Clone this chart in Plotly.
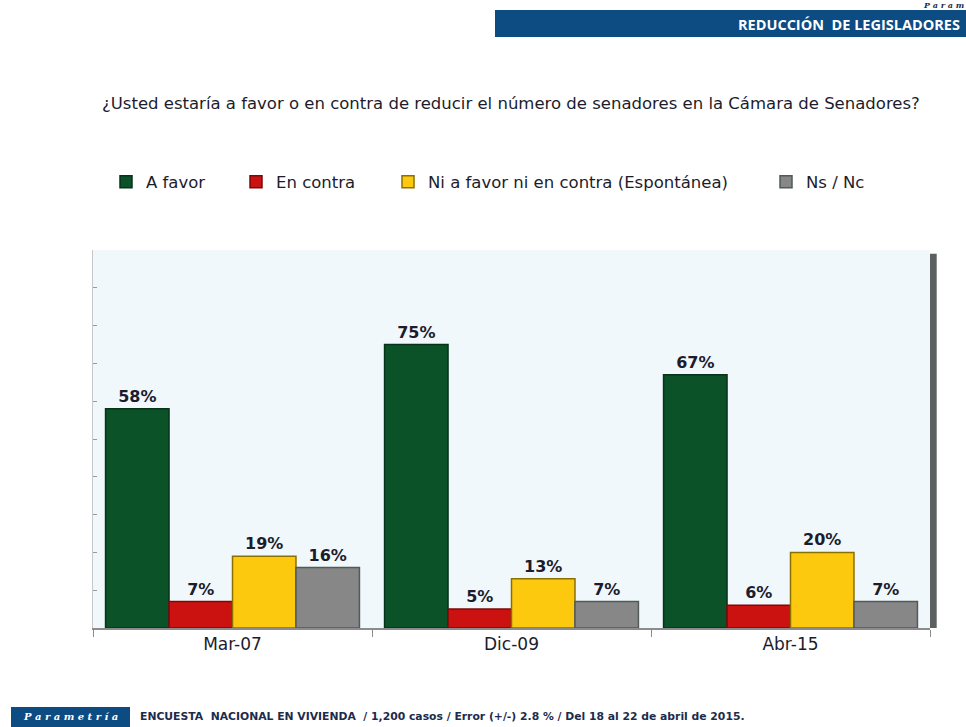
import plotly.graph_objects as go

categories = ["Mar-07", "Dic-09", "Abr-15"]
series_names = ["A favor", "En contra", "Ni a favor ni en contra (Espontánea)", "Ns / Nc"]
a_favor = [58, 75, 67]
en_contra = [7, 5, 6]
ni_ni = [19, 13, 20]
ns_nc = [16, 7, 7]
values = [a_favor, en_contra, ni_ni, ns_nc]
colors = ["#0b5229", "#cc1111", "#fdc90f", "#878787"]
edge_colors = ["#06331a", "#7a0a0a", "#8a7000", "#4f5a5a"]
legend_ids = ["legend", "legend2", "legend3", "legend4"]
legend_px = [131, 261, 413, 791]  # reference swatch centers (px)

L, R, T, B = 93, 36, 250, 99
PW = 966 - L - R
PH = 727 - T - B

def px(x):
    return (x - L) / PW

def py(y):
    return (727 - B - y) / PH

TXT = "#1c1c2c"
FONT = "DejaVu Sans"

fig = go.Figure()
for name, vals, c, ec, lid in zip(series_names, values, colors, edge_colors, legend_ids):
    fig.add_trace(go.Bar(
        x=categories, y=vals, name=name, legend=lid,
        marker=dict(color=c, line=dict(color=ec, width=1.5)),
        text=[f"<b>{v}%</b>" for v in vals], textposition="outside",
        textfont=dict(family=FONT, size=16, color=TXT),
        cliponaxis=False,
    ))

layout_legends = {}
for lid, sx in zip(legend_ids, legend_px):
    layout_legends[lid] = dict(
        orientation="h", x=px(sx - 25), y=1 - 182 / 727, xref="paper", yref="container",
        xanchor="left", yanchor="middle",
        font=dict(family=FONT, size=16.5, color=TXT),
        bgcolor="rgba(0,0,0,0)", itemwidth=30)

fig.update_layout(
    width=966, height=727,
    margin=dict(l=L, r=R, t=T, b=B),
    paper_bgcolor="white",
    plot_bgcolor="#f1f8fc",
    barmode="group", bargap=0.09, bargroupgap=0.0,
    font=dict(family=FONT, color=TXT),
    showlegend=True,
    xaxis=dict(showline=True, linecolor="#8c8c8c", linewidth=2, ticks="outside",
               tickson="boundaries", ticklen=7, tickcolor="#8c8c8c",
               tickfont=dict(family=FONT, size=17, color=TXT)),
    yaxis=dict(range=[0, 100], showticklabels=False, showgrid=False, zeroline=False,
               showline=True, linecolor="#c8c8c8", ticks="inside", ticklen=4,
               tickcolor="#9a9a9a", dtick=10),
    **layout_legends,
)

# right wall (3D effect)
fig.add_shape(type="rect", xref="paper", yref="paper", x0=1.0, x1=1.008, y0=0.0, y1=0.99,
              fillcolor="#5c6060", line=dict(width=0), layer="below")

# header band
fig.add_shape(type="rect", xref="paper", yref="paper", x0=px(495), x1=px(966),
              y0=py(37), y1=py(10), fillcolor="#0d4b83", line=dict(width=0))
fig.add_annotation(xref="paper", yref="paper", x=px(962), y=py(24),
                   text="<b>REDUCCIÓN  DE LEGISLADORES</b>", showarrow=False,
                   xanchor="right", yanchor="middle",
                   font=dict(family="Open Sans", size=14.5, color="white"))
fig.add_annotation(xref="paper", yref="paper", x=px(966), y=py(-2),
                   text="<b><i>P a r a m</i></b>", showarrow=False, xanchor="right", yanchor="top",
                   font=dict(family="DejaVu Serif", size=8, color="#1c2c4c"))

# question title
fig.add_annotation(xref="paper", yref="paper", x=px(511), y=py(103),
                   text="¿Usted estaría a favor o en contra de reducir el número de senadores en la Cámara de Senadores?",
                   showarrow=False, xanchor="center", yanchor="middle",
                   font=dict(family=FONT, size=16.5, color=TXT))

# footer
fig.add_shape(type="rect", xref="paper", yref="paper", x0=px(11), x1=px(130),
              y0=py(727), y1=py(707), fillcolor="#0d4b83", line=dict(width=0))
fig.add_annotation(xref="paper", yref="paper", x=px(70), y=py(716),
                   text="<b><i>P a r a m e t r í a</i></b>", showarrow=False,
                   xanchor="center", yanchor="middle",
                   font=dict(family="DejaVu Serif", size=10, color="white"))
fig.add_annotation(xref="paper", yref="paper", x=px(138), y=py(716),
                   text="<b>ENCUESTA  NACIONAL EN VIVIENDA  / 1,200 casos / Error (+/-) 2.8 % / Del 18 al 22 de abril de 2015.</b>",
                   showarrow=False, xanchor="left", yanchor="middle",
                   font=dict(family=FONT, size=10.8, color="#1c2c4c"))

fig.write_html("out.html")
